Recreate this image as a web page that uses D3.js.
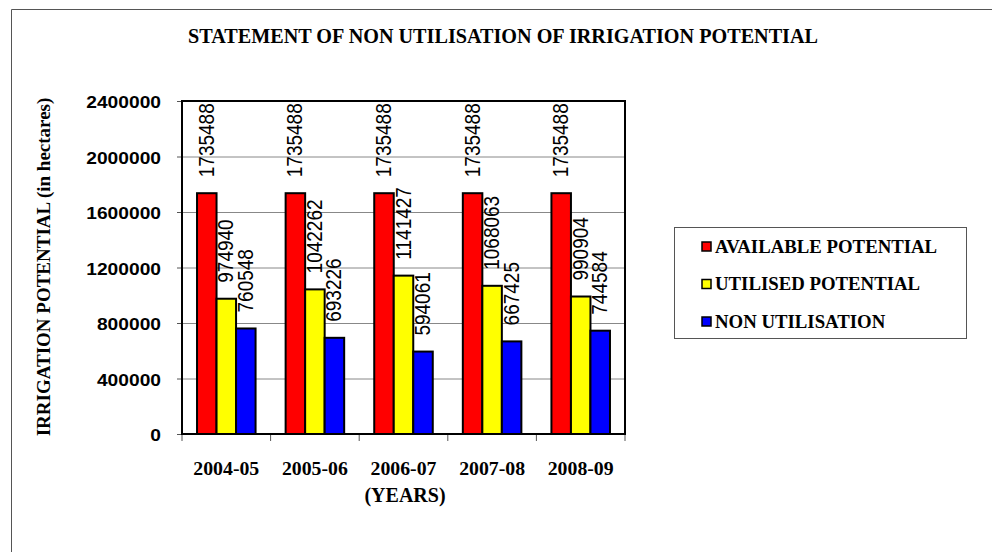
<!DOCTYPE html>
<html><head><meta charset="utf-8">
<script src="https://cdn.jsdelivr.net/npm/d3@7"></script>
<style>
html,body{margin:0;padding:0;background:#fff;}
svg{display:block;}
</style></head>
<body>
<svg id="chart" width="992" height="552"></svg>
<script>
const years = ["2004-05","2005-06","2006-07","2007-08","2008-09"];
const seriesNames = ["AVAILABLE POTENTIAL","UTILISED POTENTIAL","NON UTILISATION"];
const seriesColors = ["#ff0000","#ffff00","#0000ff"];
const available = [1735488,1735488,1735488,1735488,1735488];
const utilised = [974940,1042262,1141427,1068063,990904];
const nonUtilised = [760548,693226,594061,667425,744584];
const yTicks = [0,400000,800000,1200000,1600000,2000000,2400000];
const titleText = "STATEMENT OF NON UTILISATION OF IRRIGATION POTENTIAL";
const yTitle = "IRRIGATION POTENTIAL (in hectares)";
const xTitle = "(YEARS)";

const seriesValues = [available, utilised, nonUtilised];
const svg = d3.select("#chart");
const L = 182, R = 625, T = 101, B = 434;
const serif = "'Liberation Serif','Times New Roman',serif";
const sans = "'Liberation Sans',Arial,sans-serif";

// outer frame
svg.append("path").attr("d","M11.5,552 V9.5 H992").attr("fill","none").attr("stroke","#555").attr("stroke-width",1);

// title
svg.append("text").attr("x",503).attr("y",43).attr("text-anchor","middle")
  .attr("font-family",serif).attr("font-weight","bold").attr("font-size",20)
  .attr("textLength",630).attr("lengthAdjust","spacingAndGlyphs").text(titleText);

const y = d3.scaleLinear().domain([0,2400000]).range([B,T]);
const x0 = d3.scaleBand().domain(years).range([L,R]).paddingInner(0).paddingOuter(0);
const x1 = d3.scaleBand().domain(seriesNames).range([0,x0.bandwidth()]).paddingInner(0).paddingOuter(0.77);

// gridlines
svg.append("g").selectAll("line").data(yTicks.slice(1)).join("line")
  .attr("x1",L).attr("x2",R).attr("y1",d=>y(d)+0.5).attr("y2",d=>y(d)+0.5)
  .attr("stroke","#888").attr("stroke-width",1);

// y axis ticks
const yAxis = svg.append("g").attr("transform",`translate(${L},0)`)
  .call(d3.axisLeft(y).tickValues(yTicks).tickSize(5).tickFormat(d=>d));
yAxis.select(".domain").remove();
yAxis.selectAll(".tick line").attr("stroke","#555");
yAxis.selectAll(".tick text").remove();
svg.append("g").selectAll("text").data(yTicks).join("text")
  .attr("transform",d=>`translate(161,${y(d)+7}) scale(1.13,1)`)
  .attr("text-anchor","end").attr("font-family",sans).attr("font-weight","bold").attr("font-size",17)
  .attr("fill","#000").text(d=>d);

// x axis ticks at category boundaries
const xb = years.map(d=>x0(d)).concat([R]);
svg.append("g").selectAll("line").data(xb).join("line")
  .attr("x1",d=>d).attr("x2",d=>d).attr("y1",B).attr("y2",B+7)
  .attr("stroke","#555").attr("stroke-width",1);

// bars
const flat = [];
years.forEach((yr,i)=>seriesNames.forEach((s,j)=>flat.push({yr,s,j,v:seriesValues[j][i]})));
svg.append("g").selectAll("rect").data(flat).join("rect")
  .attr("x",d=>x0(d.yr)+x1(d.s)).attr("width",x1.bandwidth())
  .attr("y",d=>y(d.v)).attr("height",d=>B-y(d.v))
  .attr("fill",d=>seriesColors[d.j]).attr("stroke","#000").attr("stroke-width",2);

// data labels
svg.append("g").selectAll("text").data(flat).join("text")
  .attr("transform",d=>`translate(${x0(d.yr)+x1(d.s)+x1.bandwidth()/2+7},${y(d.v)-16}) scale(1.15,1) rotate(-90)`)
  .attr("font-family",sans).attr("font-size",19).attr("fill","#000")
  .text(d=>d.v);

// plot border
svg.append("rect").attr("x",L).attr("y",T).attr("width",R-L).attr("height",B-T)
  .attr("fill","none").attr("stroke","#000").attr("stroke-width",2);

// x labels
svg.append("g").selectAll("text").data(years).join("text")
  .attr("x",d=>x0(d)+x0.bandwidth()/2).attr("y",475).attr("text-anchor","middle")
  .attr("font-family",serif).attr("font-weight","bold").attr("font-size",19.8).text(d=>d);
svg.append("text").attr("x",405).attr("y",502).attr("text-anchor","middle")
  .attr("font-family",serif).attr("font-weight","bold").attr("font-size",20).text(xTitle);

// y title
svg.append("text").attr("transform","translate(50,267) rotate(-90)").attr("text-anchor","middle")
  .attr("font-family",serif).attr("font-weight","bold").attr("font-size",19).text(yTitle);

// legend
svg.append("rect").attr("x",674.5).attr("y",227.5).attr("width",292).attr("height",111)
  .attr("fill","none").attr("stroke","#555").attr("stroke-width",1);
const lg = svg.append("g").selectAll("g").data(seriesNames).join("g")
  .attr("transform",(d,i)=>`translate(702,${242+i*37.5})`);
lg.append("rect").attr("x",0).attr("y",0).attr("width",9).attr("height",9)
  .attr("fill",(d,i)=>seriesColors[i]).attr("stroke","#000").attr("stroke-width",1.5);
lg.append("text").attr("x",13).attr("y",10.5).attr("font-family",serif).attr("font-weight","bold")
  .attr("font-size",18.8).text(d=>d);
</script>
</body></html>
